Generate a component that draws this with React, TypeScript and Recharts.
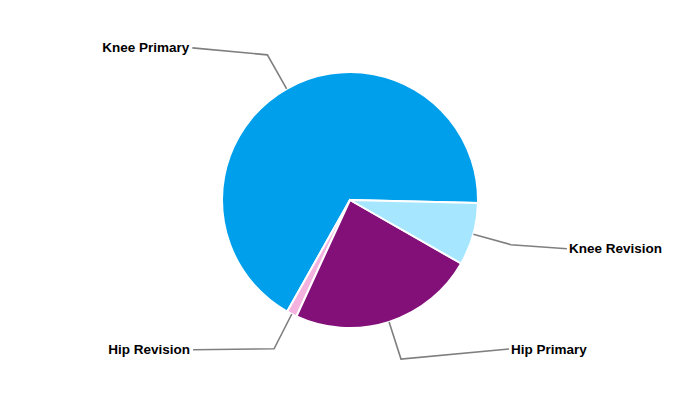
import React from "react";
import { PieChart, Pie, Cell } from "recharts";

const categories = ["Knee Primary", "Hip Revision", "Hip Primary", "Knee Revision"];
const shares = [67.2, 1.3, 23.6, 7.9];
const colors = ["#009FEB", "#F4B3DF", "#830F79", "#A6E7FF"];

const data = categories.map((name, i) => ({ name, value: shares[i] }));

// label leader layout (horizontal leg offsets)
const legLayout: Record<string, { dx: number; dy: number }> = {
  "Knee Primary": { dx: -75, dy: -7 },
  "Hip Revision": { dx: -81, dy: 1 },
  "Hip Primary": { dx: 108, dy: -10 },
  "Knee Revision": { dx: 56, dy: 4 },
};

const RADIAN = Math.PI / 180;

const renderLabel = (props: any) => {
  const { cx, cy, midAngle, outerRadius, name } = props;
  const cos = Math.cos(-midAngle * RADIAN);
  const sin = Math.sin(-midAngle * RADIAN);
  const sx = cx + outerRadius * cos;
  const sy = cy + outerRadius * sin;
  const er = outerRadius + 39;
  const ex = cx + er * cos;
  const ey = cy + er * sin;
  const lay = legLayout[name] || { dx: cos >= 0 ? 60 : -60, dy: 0 };
  const tx = ex + lay.dx;
  const ty = ey + lay.dy;
  const right = lay.dx >= 0;
  return (
    <g>
      <polyline
        points={`${sx},${sy} ${ex},${ey} ${tx},${ty}`}
        fill="none"
        stroke="#7f7f7f"
        strokeWidth={1.6}
      />
      <text
        x={right ? tx + 2 : tx - 3}
        y={ty}
        textAnchor={right ? "start" : "end"}
        dominantBaseline="central"
        fontFamily="'Liberation Sans', Arial, sans-serif"
        fontWeight="bold"
        fontSize={13.5}
        fill="#000"
      >
        {name}
      </text>
    </g>
  );
};

export default function App() {
  return (
    <PieChart width={692} height={392} margin={{ top: 0, right: 0, bottom: 0, left: 0 }}>
      <Pie
        data={data}
        dataKey="value"
        nameKey="name"
        cx={342}
        cy={192}
        outerRadius={128}
        startAngle={-1.3}
        endAngle={358.7}
        stroke="#ffffff"
        strokeWidth={2}
        label={renderLabel}
        labelLine={false}
        isAnimationActive={false}
      >
        {data.map((d, i) => (
          <Cell key={d.name} fill={colors[i]} />
        ))}
      </Pie>
    </PieChart>
  );
}
